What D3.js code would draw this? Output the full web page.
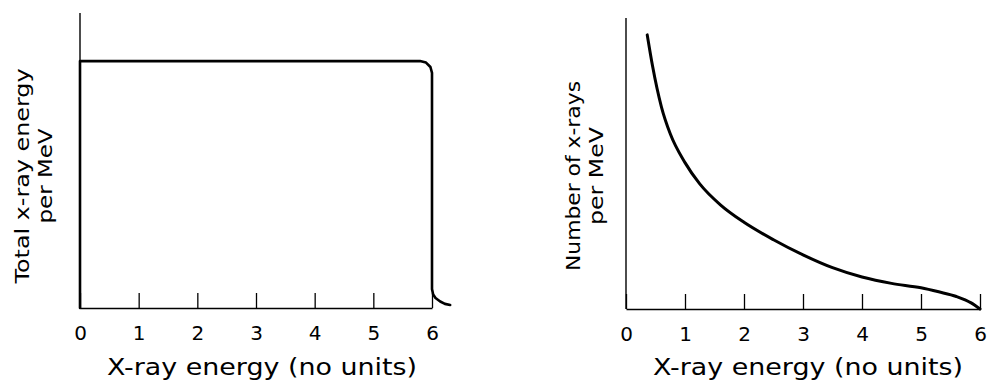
<!DOCTYPE html>
<html>
<head>
<meta charset="utf-8">
<script src="https://cdn.jsdelivr.net/npm/d3@7"></script>
<style>
  html, body { margin: 0; padding: 0; background: #fff; }
  svg { display: block; }
  text { font-family: "DejaVu Sans", sans-serif; fill: #000; }
</style>
</head>
<body>
<svg id="chart" width="987" height="381"></svg>
<script>
// ---- data ----
const xTicks = [0, 1, 2, 3, 4, 5, 6];
const xTickLabels = ["0", "1", "2", "3", "4", "5", "6"];
const xTitle = "X-ray energy (no units)";

// Left panel: total x-ray energy per MeV (arbitrary units 0..100)
const leftLabel = ["Total x-ray energy", "per MeV"];
const energyX = [0, 0, 5.795, 5.898, 5.973, 6.0, 6.0, 6.02, 6.06, 6.14, 6.22, 6.31];
const energyY = [0, 83.7, 83.7, 83.2, 81.7, 79.7, 6.4, 4.6, 3.4, 2.2, 1.4, 1.0];

// Right panel: number of x-rays per MeV (arbitrary units 0..100)
const rightLabel = ["Number of x-rays", "per MeV"];
const countX = [0.36, 0.45, 0.6, 0.75, 1.0, 1.25, 1.6, 2.0, 2.5, 3.0, 3.5, 4.0, 4.5, 5.0, 5.3, 5.6, 5.85, 6.0];
const countY = [94.2, 83.5, 69.5, 60.2, 50.3, 43.0, 35.8, 29.8, 23.8, 18.6, 14.2, 11.0, 8.8, 7.3, 5.9, 4.3, 2.1, 0];

// ---- drawing ----
const svg = d3.select("#chart");

function panel(cfg) {
  const x = d3.scaleLinear().domain([0, 6]).range(cfg.xRange);
  const y = d3.scaleLinear().domain([0, 100]).range(cfg.yRange);
  const g = svg.append("g");

  // y axis line (no ticks)
  g.append("line")
    .attr("x1", x(0)).attr("x2", x(0))
    .attr("y1", y(0)).attr("y2", y(100))
    .attr("stroke", "#000").attr("stroke-width", 1.4);

  // x axis with upward ticks
  const ax = d3.axisBottom(x)
    .tickValues(xTicks)
    .tickFormat((d, i) => xTickLabels[i])
    .tickSizeInner(-15)
    .tickSizeOuter(0)
    .tickPadding(18);
  const axG = g.append("g")
    .attr("transform", `translate(0,${y(0)})`)
    .call(ax);
  axG.select(".domain").attr("stroke", "#000").attr("stroke-width", 1.7);
  axG.selectAll(".tick line").attr("stroke", "#000").attr("stroke-width", 1.3);
  axG.selectAll(".tick text")
    .attr("fill", "#000")
    .style("font-family", "'DejaVu Sans', sans-serif")
    .style("font-size", "20px");

  // x title
  g.append("text")
    .attr("x", cfg.titleX).attr("y", 375)
    .attr("text-anchor", "middle")
    .attr("textLength", 310).attr("lengthAdjust", "spacingAndGlyphs")
    .style("font-size", "23px")
    .text(xTitle);

  // y title (two lines, rotated)
  const yt = g.append("text")
    .attr("transform", `translate(${cfg.labelX},176) rotate(-90)`)
    .attr("text-anchor", "middle")
    .style("font-size", "20px");
  yt.append("tspan").attr("x", 0).attr("y", 0)
    .attr("textLength", cfg.len1).attr("lengthAdjust", "spacingAndGlyphs")
    .text(cfg.label[0]);
  yt.append("tspan").attr("x", 0).attr("y", 23)
    .attr("textLength", cfg.len2).attr("lengthAdjust", "spacingAndGlyphs")
    .text(cfg.label[1]);

  // curve
  const pts = cfg.xs.map((v, i) => [v, cfg.ys[i]]);
  const line = d3.line().x(d => x(d[0])).y(d => y(d[1])).curve(cfg.curve);
  g.append("path")
    .datum(pts)
    .attr("d", line)
    .attr("fill", "none")
    .attr("stroke", "#000")
    .attr("stroke-width", cfg.width)
    .attr("stroke-linejoin", "round")
    .attr("stroke-linecap", "round");
}

panel({
  xRange: [80, 432], yRange: [308, 13],
  titleX: 262, labelX: 29, label: leftLabel, len1: 215, len2: 95,
  xs: energyX, ys: energyY, curve: d3.curveLinear, width: 2.6
});

panel({
  xRange: [626, 980], yRange: [309, 18],
  titleX: 808, labelX: 580, label: rightLabel, len1: 190, len2: 98,
  xs: countX, ys: countY, curve: d3.curveMonotoneX, width: 3
});
</script>
</body>
</html>
